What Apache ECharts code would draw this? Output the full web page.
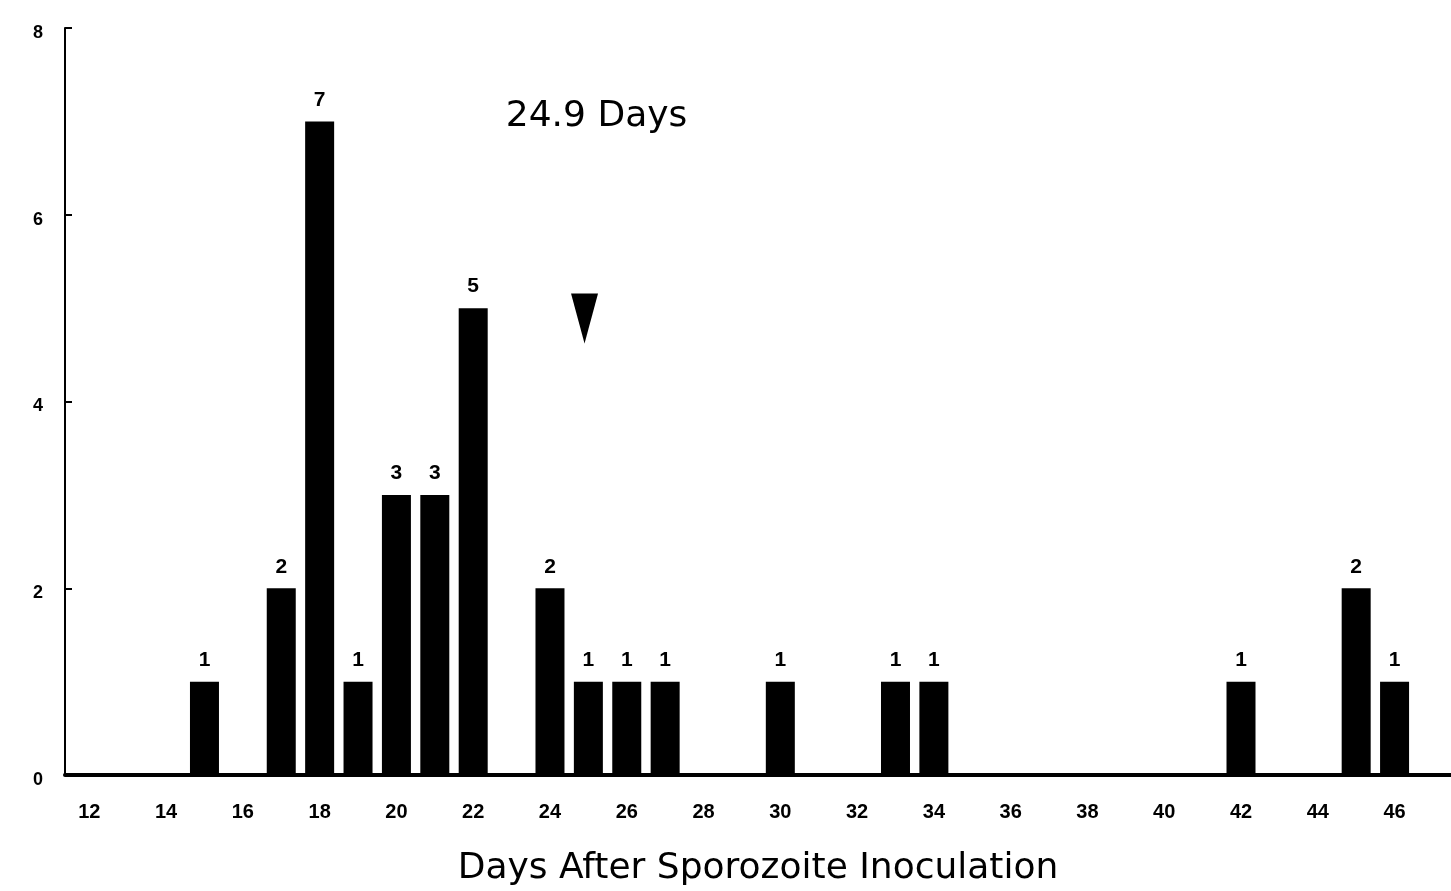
<!DOCTYPE html>
<html>
<head>
<meta charset="utf-8">
<script src="https://cdn.jsdelivr.net/npm/echarts@6/dist/echarts.min.js"></script>
<style>
html,body{margin:0;padding:0;background:#fff;overflow:hidden;}
#chart{width:1451px;height:891px;}
</style>
</head>
<body>
<div id="chart"></div>
<script>
const days = [15, 17, 18, 19, 20, 21, 22, 24, 25, 26, 27, 30, 33, 34, 42, 45, 46];
const counts = [1, 2, 7, 1, 3, 3, 5, 2, 1, 1, 1, 1, 1, 1, 1, 2, 1];
const xTickLabels = [12, 14, 16, 18, 20, 22, 24, 26, 28, 30, 32, 34, 36, 38, 40, 42, 44, 46];
const yTickLabels = [0, 2, 4, 6, 8];
const meanDay = 24.9;
const meanLabel = '24.9 Days';
const arrowY = 4.89;
const xTitle = 'Days After Sporozoite Inoculation';

const chart = echarts.init(document.getElementById('chart'));
const font = '"Liberation Sans", Arial, sans-serif';
const wideFont = '"DejaVu Sans", "Liberation Sans", Arial, sans-serif';

chart.setOption({
  animation: false,
  backgroundColor: '#fff',
  grid: { left: 65, right: 0, top: 28, height: 747, containLabel: false, outerBoundsMode: 'none' },
  xAxis: [{
    type: 'value',
    min: 11.367,
    max: 47.47,
    position: 'bottom',
    name: xTitle,
    nameLocation: 'middle',
    nameGap: 76,
    nameTextStyle: { fontFamily: wideFont, fontSize: 36, color: '#000' },
    axisLine: { show: true, onZero: false, lineStyle: { color: '#000', width: 4 } },
    axisTick: { show: false },
    splitLine: { show: false },
    axisLabel: {
      customValues: xTickLabels,
      margin: 27,
      fontFamily: font,
      fontWeight: 'bold',
      fontSize: 20,
      color: '#000',
      formatter: v => String(v)
    }
  }, {
    type: 'value',
    min: 11.367,
    max: 47.47,
    position: 'top',
    axisLine: { show: true, lineStyle: { color: '#000', width: 2 } },
    axisTick: { show: false },
    axisLabel: { show: false },
    splitLine: { show: false }
  }],
  yAxis: {
    type: 'value',
    min: 0,
    max: 8,
    interval: 2,
    axisLine: { show: true, lineStyle: { color: '#000', width: 2 } },
    axisTick: { show: true, inside: true, length: 7, lineStyle: { color: '#000', width: 2 } },
    splitLine: { show: false },
    axisLabel: {
      customValues: yTickLabels,
      margin: 22,
      formatter: v => '{t|' + v + '}',
      rich: {
        t: {
          fontFamily: font,
          fontWeight: 'bold',
          fontSize: 18,
          color: '#000',
          padding: [10, 0, 0, 0]
        }
      }
    }
  },
  series: [{
    type: 'bar',
    data: days.map((d, i) => [d, counts[i]]),
    barWidth: 29,
    itemStyle: { color: '#000' },
    label: {
      show: true,
      position: 'top',
      distance: 11,
      fontFamily: font,
      fontWeight: 'bold',
      fontSize: 21,
      color: '#000',
      formatter: p => String(p.value[1])
    },
    z: 2
  }, {
    type: 'scatter',
    data: [[meanDay, arrowY]],
    symbol: 'triangle',
    symbolRotate: 180,
    symbolSize: [27, 50],
    itemStyle: { color: '#000', opacity: 1 },
    label: {
      show: true,
      position: 'top',
      distance: 159,
      offset: [12, 0],
      fontFamily: wideFont,
      fontSize: 36,
      color: '#000',
      formatter: () => meanLabel
    },
    emphasis: { disabled: true },
    z: 3
  }]
});
</script>
</body>
</html>
